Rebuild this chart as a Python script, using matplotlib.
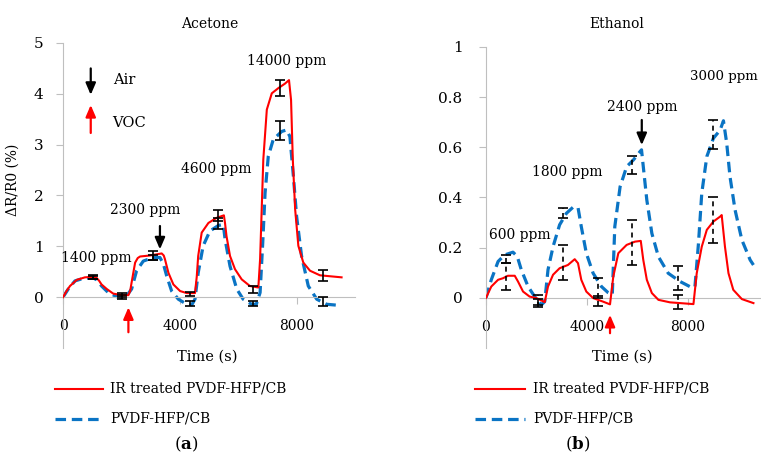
import matplotlib
matplotlib.use("Agg")
import matplotlib.pyplot as plt
from matplotlib.lines import Line2D

plt.rcParams["font.family"] = ["DejaVu Serif"]
plt.rcParams["mathtext.fontset"] = "dejavuserif"
plt.rcParams["font.size"] = 10

RED = "#FF0000"
BLUE = "#0A74C4"
AXIS_GREY = "#BFBFBF"
DASH = (0, (3.3, 1.8))

# ---------------- Acetone (a) ----------------
ace_t_red = [0, 120, 240, 470, 750, 1040, 1150, 1240, 1320, 1500, 1720, 2010, 2240, 2300,
             2350, 2470, 2560, 2640, 2980, 3380, 3450, 3490, 3610, 3780, 4010, 4240,
             4520, 4580, 4630, 4750, 4980, 5260, 5510, 5550, 5600, 5720, 5890, 6120,
             6400, 6690, 6750, 6860, 6980, 7150, 7370, 7600, 7740, 7810, 7870, 7950,
             8060, 8230, 8460, 8800, 9540]
ace_red = [0, 0.12, 0.22, 0.34, 0.39, 0.40, 0.38, 0.32, 0.25, 0.16, 0.07, 0.04, 0.04, 0.12,
           0.29, 0.68, 0.77, 0.80, 0.82, 0.86, 0.82, 0.75, 0.48, 0.25, 0.12, 0.08,
           0.08, 0.40, 0.81, 1.27, 1.46, 1.56, 1.61, 1.45, 1.20, 0.81, 0.55, 0.35,
           0.22, 0.19, 0.75, 2.71, 3.69, 4.01, 4.11, 4.20, 4.27, 3.88, 2.71, 1.73,
           1.01, 0.68, 0.52, 0.43, 0.39]
ace_t_blue = [0, 180, 410, 700, 1040, 1150, 1320, 1550, 1840, 2120, 2350, 2520, 2750,
              3090, 3320, 3440, 3550, 3720, 3950, 4180, 4410, 4520, 4630, 4800, 5030,
              5320, 5490, 5550, 5720, 5950, 6170, 6460, 6620, 6750, 6840, 6920, 7030,
              7200, 7490, 7660, 7770, 7890, 8000, 8170, 8400, 8690, 9030, 9430]
ace_blue = [0, 0.16, 0.32, 0.37, 0.38, 0.34, 0.22, 0.09, 0.01, -0.02, 0.16, 0.52, 0.71,
            0.78, 0.78, 0.65, 0.42, 0.12, -0.04, -0.12, -0.15, -0.04, 0.48, 1.01, 1.30,
            1.41, 1.43, 1.14, 0.61, 0.16, -0.04, -0.14, -0.14, 0.09, 1.07, 2.05, 2.77,
            3.10, 3.26, 3.29, 3.16, 2.38, 1.59, 0.81, 0.22, -0.04, -0.14, -0.16]
ace_err_t = [1040, 2010, 3090, 4350, 5320, 6510, 7430, 8920]
ace_err_red = [0.39, 0.04, 0.82, 0.07, 1.60, 0.15, 4.11, 0.43]
ace_err_red_sd = [0.04, 0.04, 0.08, 0.04, 0.11, 0.06, 0.16, 0.11]
ace_err_blue = [0.38, 0.00, 0.78, -0.12, 1.45, -0.12, 3.28, -0.08]
ace_err_blue_sd = [0.03, 0.04, 0.05, 0.05, 0.10, 0.05, 0.18, 0.09]
ace_labels = ["1400 ppm", "2300 ppm", "4600 ppm", "14000 ppm"]
ace_label_xy = [(1150, 0.78), (2810, 1.71), (5260, 2.52), (7660, 4.65)]

# ---------------- Ethanol (b) ----------------
eth_t_red = [0, 210, 480, 670, 870, 1140, 1270, 1470, 1730, 2000, 2330, 2460, 2660,
             2920, 3250, 3520, 3650, 3780, 3980, 4250, 4640, 4920, 5050, 5250, 5580,
             5910, 6140, 6240, 6380, 6580, 6840, 7300, 8230, 8360, 8560, 8760, 9020,
             9290, 9350, 9480, 9620, 9810, 10150, 10610]
eth_red = [0, 0.045, 0.072, 0.078, 0.088, 0.088, 0.065, 0.025, 0.005, -0.001, -0.017,
           0.045, 0.092, 0.118, 0.131, 0.154, 0.138, 0.072, 0.025, -0.001, -0.015,
           -0.026, 0.085, 0.178, 0.211, 0.224, 0.227, 0.151, 0.072, 0.019, -0.008,
           -0.018, -0.025, 0.098, 0.204, 0.271, 0.304, 0.324, 0.330, 0.204, 0.098,
           0.032, -0.005, -0.021]
eth_t_blue = [0, 210, 480, 740, 1070, 1240, 1400, 1670, 1930, 2200, 2330, 2460, 2660,
              2920, 3190, 3450, 3650, 3780, 3980, 4250, 4580, 4840, 5010, 5110, 5320,
              5580, 5850, 6110, 6170, 6240, 6380, 6580, 6840, 7230, 7700, 8160, 8290,
              8430, 8560, 8760, 9020, 9290, 9420, 9550, 9680, 9880, 10150, 10480, 10610]
eth_blue = [0, 0.072, 0.145, 0.171, 0.182, 0.165, 0.112, 0.045, 0.005, -0.028, -0.015,
            0.112, 0.204, 0.291, 0.337, 0.361, 0.360, 0.284, 0.178, 0.098, 0.045,
            0.021, 0.012, 0.284, 0.443, 0.523, 0.550, 0.583, 0.590, 0.523, 0.390,
            0.257, 0.164, 0.098, 0.065, 0.041, 0.045, 0.218, 0.417, 0.563, 0.636,
            0.669, 0.706, 0.616, 0.483, 0.351, 0.231, 0.151, 0.131]
eth_err_t = [780, 2060, 3060, 4440, 5780, 7630, 9020]
eth_err_red = [0.085, -0.010, 0.140, -0.013, 0.220, -0.017, 0.310]
eth_err_red_sd = [0.052, 0.020, 0.070, 0.020, 0.090, 0.028, 0.090]
eth_err_blue = [0.155, -0.020, 0.340, 0.040, 0.530, 0.078, 0.650]
eth_err_blue_sd = [0.017, 0.015, 0.020, 0.040, 0.035, 0.047, 0.057]
eth_labels = ["600 ppm", "1800 ppm", "2400 ppm", "3000 ppm"]
eth_label_xy = [(1340, 0.251), (3240, 0.50), (6180, 0.762), (8080, 0.882)]

legend_names = ["IR treated PVDF-HFP/CB", "PVDF-HFP/CB"]

W, H = 761, 454
fig = plt.figure(figsize=(W / 100, H / 100), dpi=100)


def px_axes(x0, x1, ytop, ybot):
    return fig.add_axes([x0 / W, 1 - ybot / H, (x1 - x0) / W, (ybot - ytop) / H])


def style(ax, xlim, ylim, yticks, ylabels, ypad):
    ax.set_xlim(*xlim)
    ax.set_ylim(*ylim)
    for s in ("top", "right"):
        ax.spines[s].set_visible(False)
    ax.spines["left"].set_color(AXIS_GREY)
    ax.spines["bottom"].set_color(AXIS_GREY)
    ax.spines["bottom"].set_position(("data", 0))
    ax.set_xticks([0, 4000, 8000])
    ax.set_xticklabels(["0", "4000", "8000"])
    ax.set_yticks(yticks)
    ax.set_yticklabels(ylabels)
    ax.tick_params(axis="x", length=5, color=AXIS_GREY, pad=11, labelsize=10)
    ax.tick_params(axis="y", length=5, color=AXIS_GREY, pad=ypad, labelsize=11)
    ax.patch.set_alpha(0)


def arrow(ax, x, y_tail, y_tip, color):
    ax.annotate("", xy=(x, y_tip), xytext=(x, y_tail), annotation_clip=False,
                arrowprops=dict(arrowstyle="-|>,head_length=0.7,head_width=0.3",
                                color=color, lw=1.6, shrinkA=0, shrinkB=0))


def draw_err(ax, t, v, sd, dashed):
    eb = ax.errorbar(t, v, yerr=sd, fmt="none", ecolor="black", elinewidth=1.2,
                     capsize=3.5, capthick=1.2, zorder=4)
    if dashed:
        eb[2][0].set_linestyle((0, (3, 2.5)))


# ---- panel (a)
ax1 = px_axes(63, 355, 43, 348)
style(ax1, (0, 10000), (-1, 5), [0, 1, 2, 3, 4, 5],
      ["0", "1", "2", "3", "4", "5"], 9)
ax1.plot(ace_t_red, ace_red, color=RED, lw=1.5, zorder=3)
ax1.plot(ace_t_blue, ace_blue, color=BLUE, lw=2.3, ls=DASH, zorder=2)
draw_err(ax1, ace_err_t, ace_err_red, ace_err_red_sd, False)
draw_err(ax1, ace_err_t, ace_err_blue, ace_err_blue_sd, False)
for lab, (x, y) in zip(ace_labels, ace_label_xy):
    ax1.text(x, y, lab, ha="center", va="center", fontsize=10)
arrow(ax1, 3320, 1.40, 0.94, "black")
arrow(ax1, 2240, -0.69, -0.20, RED)
arrow(ax1, 950, 4.50, 3.98, "black")
arrow(ax1, 950, 3.23, 3.78, RED)
ax1.text(1700, 4.27, "Air", ha="left", va="center", fontsize=10.5)
ax1.text(1700, 3.43, "VOC", ha="left", va="center", fontsize=10.5)

# ---- panel (b)
ax2 = px_axes(486, 761, 47, 348)
style(ax2, (0, 10910), (-0.2, 1.0), [0, 0.2, 0.4, 0.6, 0.8, 1.0],
      ["0", "0.2", "0.4", "0.6", "0.8", "1"], 12)
ax2.plot(eth_t_red, eth_red, color=RED, lw=1.5, zorder=3)
ax2.plot(eth_t_blue, eth_blue, color=BLUE, lw=2.3, ls=DASH, zorder=2)
draw_err(ax2, eth_err_t, eth_err_red, eth_err_red_sd, True)
draw_err(ax2, eth_err_t, eth_err_blue, eth_err_blue_sd, True)
for i, (lab, (x, y)) in enumerate(zip(eth_labels, eth_label_xy)):
    ax2.text(x, y, lab, ha="left" if i == 3 else "center", va="center",
             fontsize=10 if i < 3 else 9.6, clip_on=False)
arrow(ax2, 6180, 0.709, 0.609, "black")
arrow(ax2, 4920, -0.141, -0.068, RED)

# ---- titles and labels
fig.text(210 / W, 1 - 24 / H, "Acetone", ha="center", va="center", fontsize=10)
fig.text(617 / W, 1 - 24 / H, "Ethanol", ha="center", va="center", fontsize=10)
fig.text(13 / W, 1 - 180 / H, "ΔR/R0 (%)", rotation=90, ha="center", va="center",
         fontsize=10)
fig.text(207 / W, 1 - 357 / H, "Time (s)", ha="center", va="center", fontsize=10.5)
fig.text(622 / W, 1 - 357 / H, "Time (s)", ha="center", va="center", fontsize=10.5)
fig.text(186 / W, 1 - 444 / H, r"($\mathbf{a}$)", ha="center", va="center", fontsize=12)
fig.text(578 / W, 1 - 444 / H, r"($\mathbf{b}$)", ha="center", va="center", fontsize=12)

# ---- legends below each panel
for x0, x1, xt in [(55, 103, 110), (475, 525, 533)]:
    for row, (name, color, lw, ls) in enumerate(
            [(legend_names[0], RED, 1.5, "-"),
             (legend_names[1], BLUE, 2.3, DASH)]):
        y = 1 - (389 + 30 * row) / H
        fig.add_artist(Line2D([x0 / W, x1 / W], [y, y], color=color, lw=lw, ls=ls))
        fig.text(xt / W, y, name, ha="left", va="center", fontsize=10)

fig.savefig("out.png", dpi=100)
